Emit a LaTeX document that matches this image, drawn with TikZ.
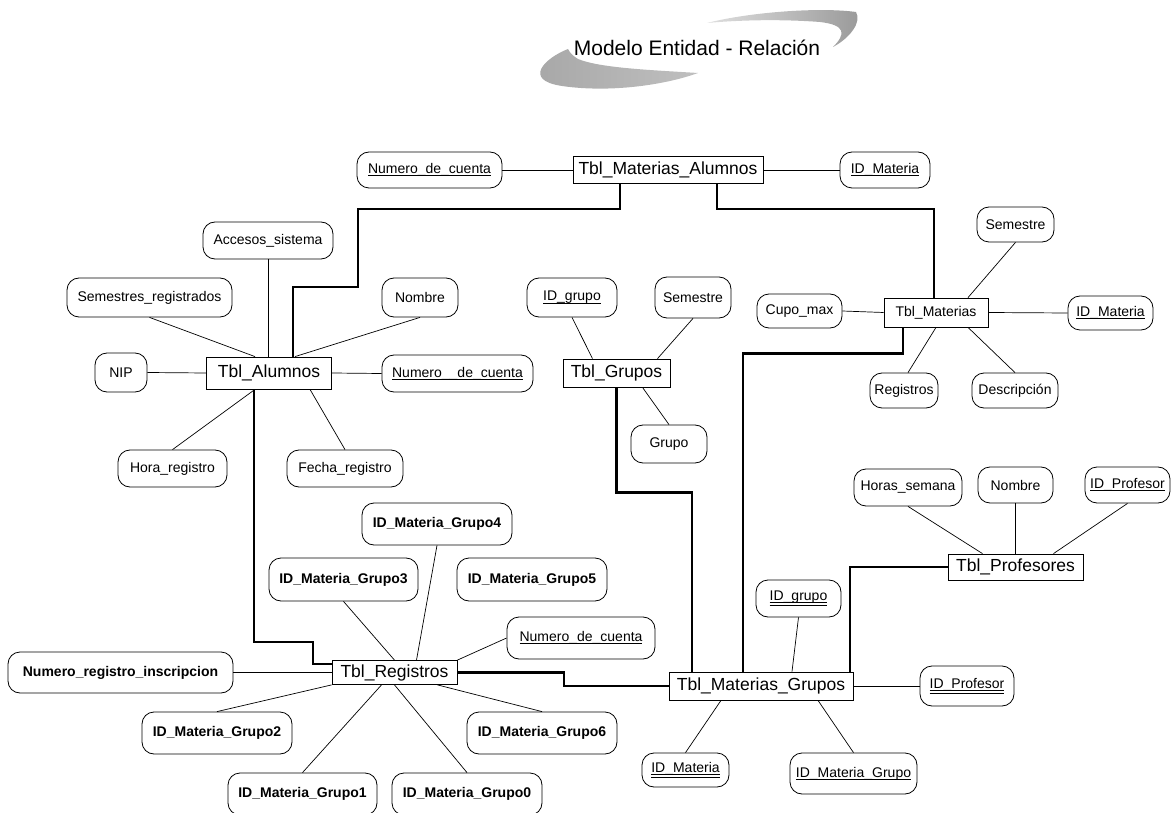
\documentclass[tikz,border=0pt]{standalone}
\usepackage{fontspec}
\setmainfont{Liberation Sans}
\usetikzlibrary{calc}
% key attributes: the rule sits on the underscore line, as in the drawing tool
\newcommand\ulone[1]{\setbox0\hbox{#1}\leavevmode\rlap{\rule[-0.2em]{\wd0}{0.075em}}\box0}
\newcommand\ultwo[1]{\setbox0\hbox{#1}\leavevmode\rlap{\rule[-0.2em]{\wd0}{0.075em}}\rlap{\rule[-0.38em]{\wd0}{0.07em}}\box0}
\begin{document}
\begin{tikzpicture}[x=1pt,y=-1pt,
  ent/.style={draw, line width=0.8pt, inner sep=0pt, font=\fontsize{17.5}{20}\selectfont},
  att/.style={draw, line width=0.8pt, rounded corners=12pt, inner sep=0pt, font=\fontsize{14}{16}\selectfont},
  batt/.style={att, font=\fontsize{14}{16}\selectfont\bfseries},
  link/.style={line width=0.7pt},
  rel/.style={line width=2.2pt, line join=miter}
]
\useasboundingbox (0,0) rectangle (1171,813);

% --- title with swoosh ---
\shade[left color=gray!70, middle color=gray!10, right color=gray!50]
  (568,49) .. controls (545,58) and (522,80) .. (562,86)
  .. controls (610,93) and (665,85) .. (698,73)
  .. controls (650,70) and (600,68) .. (578,59)
  .. controls (573,56) and (570,53) .. (568,49) -- cycle;
\shade[left color=gray!25, middle color=gray!8, right color=gray!80]
  (707,23) .. controls (750,12) and (820,7) .. (856,12)
  .. controls (862,22) and (850,38) .. (833,47)
  .. controls (846,34) and (846,25) .. (820,22)
  .. controls (780,19) and (740,20) .. (707,23) -- cycle;
\node (title) at (697,48) {\fontsize{21}{24}\selectfont Modelo Entidad - Relaci\'on};

% --- entities ---
\node[ent, minimum width=190, minimum height=27] (tma) at (668,170) {Tbl\_Materias\_Alumnos};
\node[ent, minimum width=125, minimum height=32] (alumnos) at (269,373) {Tbl\_Alumnos};
\node[ent, minimum width=107, minimum height=28] (grupos) at (616.5,373) {Tbl\_Grupos};
\node[ent, minimum width=104, minimum height=29, font=\fontsize{14}{16}\selectfont] (materias) at (936,312.5) {Tbl\_Materias};
\node[ent, minimum width=125, minimum height=24] (registros) at (394.5,672.5) {Tbl\_Registros};
\node[ent, minimum width=184, minimum height=28] (mg) at (761,686) {Tbl\_Materias\_Grupos};
\node[ent, minimum width=135, minimum height=26] (prof) at (1015.5,567) {Tbl\_Profesores};

% --- attributes: Tbl_Materias_Alumnos ---
\node[att, minimum width=145, minimum height=36] (numcta0) at (429.5,170) {\ulone{Numero\_de\_cuenta}};
\node[att, minimum width=90, minimum height=36] (idmat1) at (885,170) {\ulone{ID\_Materia}};

% --- attributes: Tbl_Alumnos ---
\node[att, minimum width=130, minimum height=37] (accesos) at (268,240.5) {Accesos\_sistema};
\node[att, minimum width=165, minimum height=39] (semreg) at (149.5,297.5) {Semestres\_registrados};
\node[att, minimum width=76, minimum height=39] (nombre1) at (420,297.5) {Nombre};
\node[att, minimum width=52, minimum height=39] (nip) at (121,372.5) {NIP};
\node[att, minimum width=151, minimum height=37] (numcta1) at (457.5,373.5) {\ulone{Numero\_\_de\_cuenta}};
\node[att, minimum width=109, minimum height=37] (horareg) at (172.5,468.5) {Hora\_registro};
\node[att, minimum width=116, minimum height=37] (fechareg) at (345,468.5) {Fecha\_registro};

% --- attributes: Tbl_Grupos ---
\node[att, minimum width=90, minimum height=39] (idgrupo1) at (572,297.5) {\ulone{ID\_grupo}};
\node[att, minimum width=76, minimum height=41] (semestre1) at (693,297.5) {Semestre};
\node[att, minimum width=76, minimum height=38] (grupo) at (669,444) {Grupo};

% --- attributes: Tbl_Materias ---
\node[att, minimum width=77, minimum height=35] (semestre2) at (1015.5,224.5) {Semestre};
\node[att, minimum width=85, minimum height=34] (cupo) at (799.5,311) {Cupo\_max};
\node[att, minimum width=85, minimum height=34] (idmat2) at (1110.5,313) {\ulone{ID\_Materia}};
\node[att, minimum width=68, minimum height=35] (registros2) at (904,390.5) {Registros};
\node[att, minimum width=86, minimum height=35] (descr) at (1015,390.5) {Descripci\'on};

% --- attributes: Tbl_Registros ---
\node[batt, minimum width=150, minimum height=42] (g4) at (437,524) {ID\_Materia\_Grupo4};
\node[batt, minimum width=149, minimum height=43] (g3) at (343.5,579.5) {ID\_Materia\_Grupo3};
\node[batt, minimum width=150, minimum height=43] (g5) at (532,579.5) {ID\_Materia\_Grupo5};
\node[att, minimum width=148, minimum height=42] (numcta3) at (581,638) {\ulone{Numero\_de\_cuenta}};
\node[batt, minimum width=225, minimum height=41] (numreg) at (120.5,672.5) {Numero\_registro\_inscripcion};
\node[batt, minimum width=150, minimum height=42] (g2) at (217,733) {ID\_Materia\_Grupo2};
\node[batt, minimum width=150, minimum height=42] (g6) at (542,733) {ID\_Materia\_Grupo6};
\node[batt, minimum width=149, minimum height=42] (g1) at (302.5,794) {ID\_Materia\_Grupo1};
\node[batt, minimum width=150, minimum height=42] (g0) at (467,794) {ID\_Materia\_Grupo0};

% --- attributes: Tbl_Profesores ---
\node[att, minimum width=108, minimum height=37] (horas) at (908,487.5) {Horas\_semana};
\node[att, minimum width=75, minimum height=36] (nombre2) at (1015.5,485) {Nombre};
\node[att, minimum width=85, minimum height=36] (idprof1) at (1127.5,485) {\ulone{ID\_Profesor}};

% --- attributes: Tbl_Materias_Grupos ---
\node[att, minimum width=85, minimum height=37] (idgrupo2) at (798.5,598.5) {\ultwo{ID\_grupo}};
\node[att, minimum width=94, minimum height=40] (idprof2) at (967,686) {\ultwo{ID\_Profesor}};
\node[att, minimum width=87, minimum height=34] (idmat3) at (685.5,770) {\ultwo{ID\_Materia}};
\node[att, minimum width=127, minimum height=41] (idmatgr) at (853.5,773.5) {\ulone{ID\_Materia\_Grupo}};

% --- attribute links ---
\draw[link] (numcta0.east) -- (tma.west);
\draw[link] (tma.east) -- (idmat1.west);

\draw[link] (accesos.south) -- (accesos.south |- alumnos.north);
\draw[link] (semreg.south) -- ([xshift=-14pt]alumnos.north);
\draw[link] (nombre1.south) -- ([xshift=26pt]alumnos.north);
\draw[link] (nip.east) -- (alumnos.west);
\draw[link] (alumnos.east) -- (numcta1.west);
\draw[link] (horareg.north) -- ([xshift=-14pt]alumnos.south);
\draw[link] (fechareg.north) -- ([xshift=41pt]alumnos.south);

\draw[link] (idgrupo1.south) -- ([xshift=-24pt]grupos.north);
\draw[link] (semestre1.south) -- ([xshift=41pt]grupos.north);
\draw[link] (grupo.north) -- ([xshift=26pt]grupos.south);

\draw[link] (semestre2.south) -- ([xshift=32pt]materias.north);
\draw[link] (cupo.east) -- (materias.west);
\draw[link] (materias.east) -- (idmat2.west);
\draw[link] ([xshift=4pt]registros2.north) -- (materias.south);
\draw[link] (descr.north) -- ([xshift=32pt]materias.south);

\draw[link] (g4.south) -- ([xshift=22pt]registros.north);
\draw[link] (g3.south) -- (registros.north);
\draw[link] (numcta3.west) -- (registros.north east);
\draw[link] (numreg.east) -- (registros.west);
\draw[link] (g2.north) -- (registros.south west);
\draw[link] (g1.north) -- ([xshift=-13pt]registros.south);
\draw[link] (g0.north) -- (registros.south);
\draw[link] (g6.north) -- ([xshift=43pt]registros.south);

\draw[link] (horas.south) -- ([xshift=-33pt]prof.north);
\draw[link] (nombre2.south) -- (prof.north);
\draw[link] (idprof1.south) -- ([xshift=38pt]prof.north);

\draw[link] (idgrupo2.south) -- ([xshift=31pt]mg.north);
\draw[link] (mg.east) -- (idprof2.west);
\draw[link] (idmat3.north) -- ([xshift=-40pt]mg.south);
\draw[link] (idmatgr.north) -- ([xshift=57pt]mg.south);

% --- relationships ---
\draw[rel] ([xshift=-48pt]tma.south) -- ++(0,25) -| (358,287) -| ([xshift=24pt]alumnos.north);
\draw[rel] ([xshift=49pt]tma.south) -- ++(0,25) -| ([xshift=-2pt]materias.north);
\draw[rel] ([xshift=-15pt]alumnos.south) |- (313,642) |- ([yshift=8.5pt]registros.west);
\draw[rel] (registros.east) -| (564,686) -- (mg.west);
\draw[rel] (grupos.south) -- ++(0,105) -| ([xshift=-69pt]mg.north);
\draw[rel] ([xshift=-33pt]materias.south) -- ++(0,26) -| ([xshift=-18pt]mg.north);
\draw[rel] (prof.west) -| ([xshift=89pt]mg.north);
\end{tikzpicture}
\end{document}
